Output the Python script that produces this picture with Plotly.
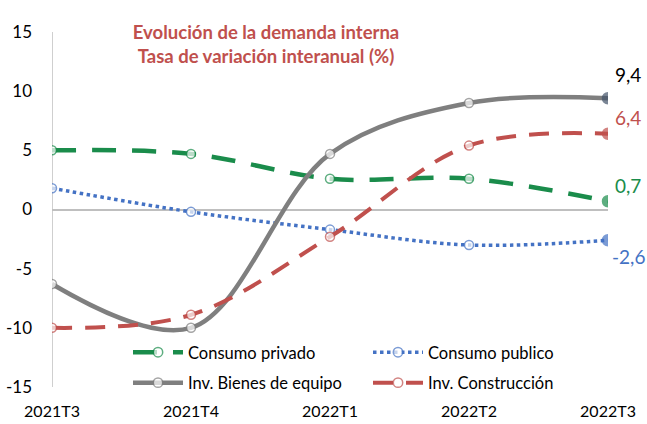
import plotly.graph_objects as go

categories = ["2021T3", "2021T4", "2022T1", "2022T2", "2022T3"]
consumo_privado = [5.0, 4.7, 2.6, 2.6, 0.7]
consumo_publico = [1.8, -0.2, -1.7, -3.0, -2.6]
inv_bienes = [-6.3, -10.0, 4.7, 9.0, 9.4]
inv_construccion = [-10.0, -8.9, -2.3, 5.4, 6.4]
y_ticks = [-15, -10, -5, 0, 5, 10, 15]

FONT = "Lato"
series = [
    ("Consumo privado", consumo_privado, "#1A8C4B", dict(dash="24px,16px", width=4.5), "#1A8C4B", 16, "legend"),
    ("Consumo publico", consumo_publico, "#4472C4", dict(dash="dot", width=3.5), "#4472C4", -16, "legend2"),
    ("Inv. Bienes de equipo", inv_bienes, "#7F7F7F", dict(dash="solid", width=4.5), "#44546A", 24, "legend"),
    ("Inv. Construcción", inv_construccion, "#C0504D", dict(dash="20px,13px", width=4), "#C0504D", 16, "legend2"),
]
label_colors = {"Consumo privado": "#1A8C4B", "Consumo publico": "#4472C4",
                "Inv. Bienes de equipo": "#000000", "Inv. Construcción": "#C0504D"}

fig = go.Figure()
n = len(categories)
for name, vals, color, line, last_color, yshift, leg in series:
    fig.add_trace(go.Scatter(
        x=categories, y=vals, name=name, mode="lines+markers", legend=leg, legendgroup=name,
        line=dict(color=color, width=line["width"], dash=line["dash"], shape="spline", smoothing=1.0),
        marker=dict(size=[9] * (n - 1) + [11],
                    color=["white"] * (n - 1) + [last_color],
                    line=dict(color=[color] * (n - 1) + [last_color], width=1.5)),
    ))
    fig.add_annotation(x=categories[-1], y=vals[-1], text=f"{vals[-1]:.1f}".replace(".", ","),
                       showarrow=False, xshift=20, yshift=yshift,
                       font=dict(family=FONT, size=19, color=label_colors[name]))

legend_style = dict(orientation="v", xanchor="left", yanchor="top",
                    bgcolor="rgba(255,255,255,0)", tracegroupgap=6,
                    font=dict(family=FONT, size=16.5, color="black"), itemwidth=50)
fig.update_layout(
    width=647, height=424,
    margin=dict(l=52, r=39, t=32, b=37, autoexpand=False),
    paper_bgcolor="white", plot_bgcolor="white",
    font=dict(family=FONT, size=16, color="black"),
    title=dict(text="Evolución de la demanda interna<br>Tasa de variación interanual (%)",
               font=dict(family=FONT, size=18.5, color="#C0504D", weight="bold"),
               x=266 / 647, xanchor="center", xref="container",
               y=1 - 39 / 424, yanchor="middle", yref="container"),
    legend=dict(x=(128 - 52) / 556, y=(387 - 335) / 355, **legend_style),
    legend2=dict(x=(368 - 52) / 556, y=(387 - 335) / 355, **legend_style),
    showlegend=True,
)
fig.update_xaxes(type="category", range=[0, n - 1], showgrid=False, showline=False,
                 zeroline=False, ticks="", tickfont=dict(family=FONT, size=16),
                 ticklabelstandoff=13, automargin=False)
fig.update_yaxes(range=[-15, 15], tickvals=y_ticks, ticktext=[str(v) for v in y_ticks],
                 showgrid=False, zeroline=True,
                 zerolinecolor="#BFBFBF", zerolinewidth=1.5, showline=False, ticks="",
                 tickfont=dict(family=FONT, size=17), ticklabelstandoff=19, automargin=False)
# vertical axis line at first category
fig.add_shape(type="line", xref="x", yref="y", x0=0, x1=0, y0=-15, y1=15,
              line=dict(color="#BFBFBF", width=1.5), layer="below")

fig.write_html("out.html", config={"displayModeBar": False},
               post_script="document.body.style.margin='0';")
